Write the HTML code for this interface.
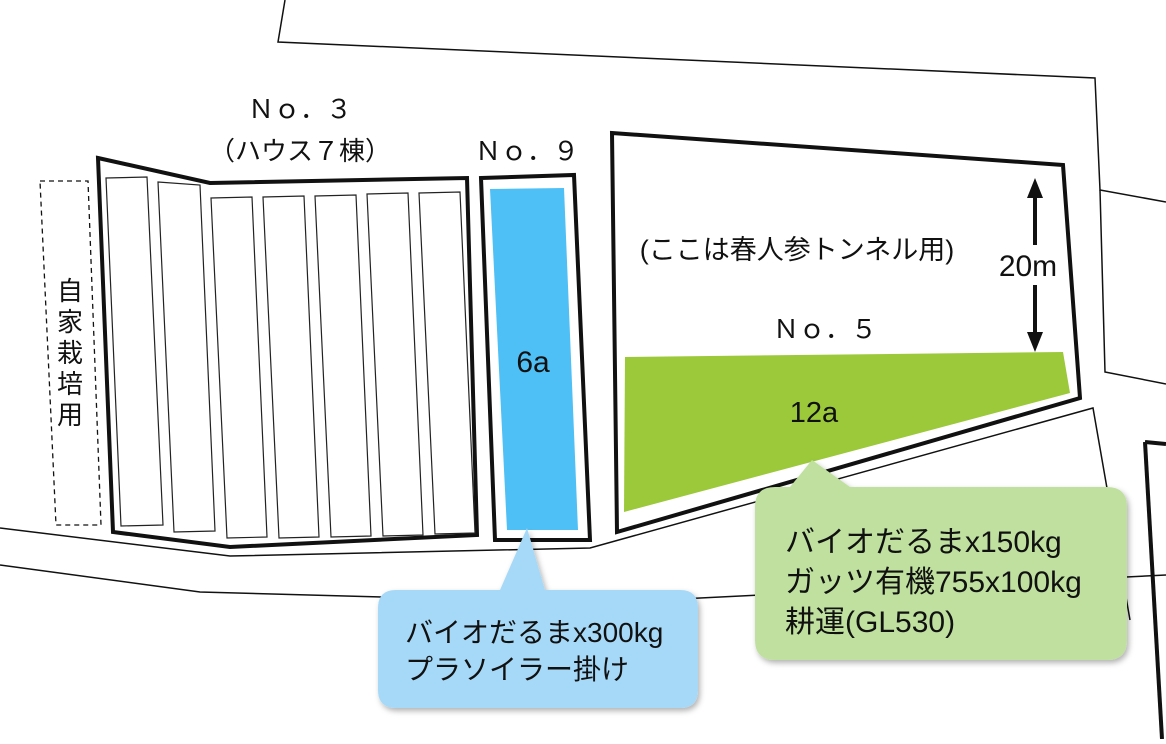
<!DOCTYPE html>
<html><head><meta charset="utf-8"><style>
body{margin:0;width:1166px;height:739px;overflow:hidden;background:#fff}
svg text{font-family:"Liberation Sans","Noto Sans CJK JP",sans-serif;fill:#111}
</style></head><body>
<svg width="1166" height="739" viewBox="0 0 1166 739">
<defs><filter id="sh" x="-10%" y="-10%" width="130%" height="130%"><feDropShadow dx="2" dy="3" stdDeviation="3" flood-opacity="0.3"/></filter></defs>
<g fill="none" stroke="#111" stroke-width="1.5">
<polyline points="285,0 278,42 1095,78 1100,190 1166,202"/>
<polyline points="1100,190 1105,372 1166,384"/>
<polyline points="0,528 230,556 590,548 1093,408 1130,620"/>
<polyline points="0,565 200,592 600,603 1166,575"/>
</g>
<polyline points="1145,442 1166,444" fill="none" stroke="#111" stroke-width="4"/>
<line x1="1145" y1="442" x2="1162" y2="739" stroke="#111" stroke-width="4"/>
<polygon points="40,181 88,181 101,525 56,525" fill="none" stroke="#111" stroke-width="1.3" stroke-dasharray="5,4"/>
<g font-size="26" text-anchor="middle">
<text x="70" y="300">自</text>
<text x="70" y="331">家</text>
<text x="70" y="362">栽</text>
<text x="70" y="393">培</text>
<text x="70" y="424">用</text>
</g>
<polygon points="98,158 210,183 467,178 477,535 230,547 113,532" fill="#fff" stroke="#111" stroke-width="4"/>
<g fill="none" stroke="#222" stroke-width="1.2">
<polygon points="106,178 147,177 163,525 121,526"/>
<polygon points="158,182 200,185 215,531 174,532"/>
<polygon points="211,198 252,197 267,537 227,538"/>
<polygon points="263,197 304,196 319,537 279,538"/>
<polygon points="315,196 356,195 371,536 331,537"/>
<polygon points="367,194 408,193 423,535 383,536"/>
<polygon points="419,193 460,192 475,533 435,534"/>
</g>
<polygon points="481,178 574,175 590,540 495,540" fill="#fff" stroke="#111" stroke-width="4"/>
<polygon points="490,189 564,188 578,530 507,530" fill="#4fc0f5"/>
<text x="533" y="372" font-size="30" text-anchor="middle">6a</text>
<polygon points="612,133 1063,165 1080,398 617,532" fill="#fff" stroke="#111" stroke-width="4"/>
<polygon points="625,357 1063,352 1070,393 624,512" fill="#9bc93a"/>
<text x="814" y="422" font-size="29" text-anchor="middle">12a</text>
<line x1="1035" y1="195" x2="1035" y2="245" stroke="#111" stroke-width="4"/>
<line x1="1035" y1="285" x2="1035" y2="335" stroke="#111" stroke-width="4"/>
<polygon points="1035,178 1027,198 1043,198" fill="#111"/>
<polygon points="1035,352 1027,332 1043,332" fill="#111"/>
<text x="1028" y="276" font-size="30" text-anchor="middle">20m</text>
<text x="797" y="259" font-size="27" text-anchor="middle">(ここは春人参トンネル用)</text>
<text x="825" y="338" font-size="26" text-anchor="middle">Ｎｏ．５</text>
<text x="300" y="118" font-size="26" text-anchor="middle">Ｎｏ．３</text>
<text x="300" y="160" font-size="26" text-anchor="middle">（ハウス７棟）</text>
<text x="527" y="160" font-size="26" text-anchor="middle">Ｎｏ．９</text>
<g filter="url(#sh)">
<path d="M396,590 L500,590 L527,528 L545,590 L680,590 Q698,590 698,608 L698,690 Q698,708 680,708 L396,708 Q378,708 378,690 L378,608 Q378,590 396,590Z" fill="#a6d9f8"/>
<path d="M775,487 L790,487 L812,460 L850,487 L1107,487 Q1127,487 1127,507 L1127,640 Q1127,660 1107,660 L775,660 Q755,660 755,640 L755,507 Q755,487 775,487Z" fill="#bfe09f"/>
</g>
<text x="405" y="642" font-size="28">バイオだるまx300kg</text>
<text x="405" y="679" font-size="28">プラソイラー掛け</text>
<text x="785" y="552" font-size="30">バイオだるまx150kg</text>
<text x="785" y="592" font-size="30">ガッツ有機755x100kg</text>
<text x="785" y="632" font-size="30">耕運(GL530)</text>
</svg>
</body></html>
